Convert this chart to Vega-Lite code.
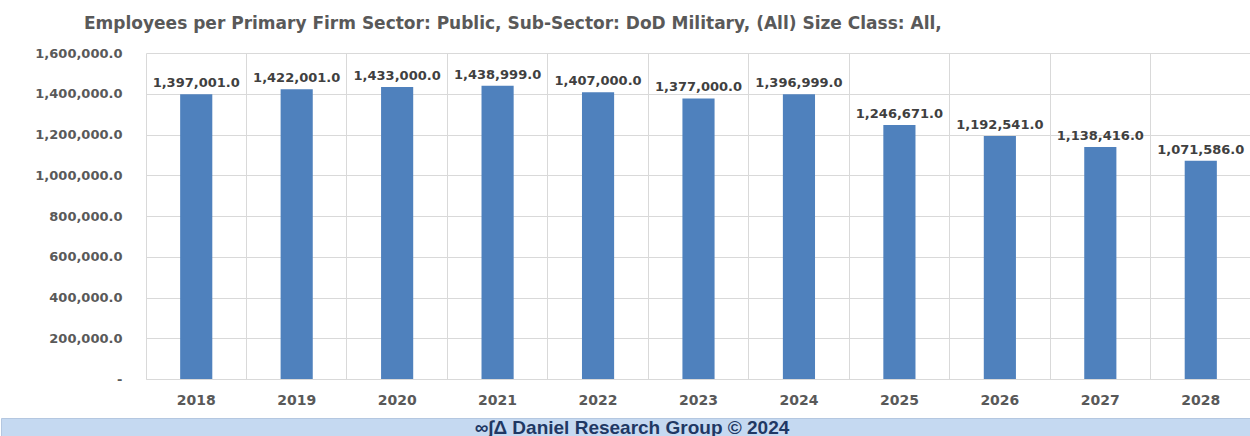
{
  "$schema": "https://vega.github.io/schema/vega-lite/v6.json",
  "padding": {"left": 0, "top": 15, "right": 0, "bottom": 0},
  "background": "white",
  "spacing": 0,
  "config": {"view": {"stroke": null}, "font": "DejaVu Sans"},
  "vconcat": [
    {
      "width": 1250,
      "height": 326,
      "title": {
        "text": "Employees per Primary Firm Sector: Public, Sub-Sector: DoD Military, (All) Size Class: All,",
        "anchor": "start",
        "frame": "group",
        "dx": 83,
        "fontSize": 17,
        "fontWeight": "bold",
        "color": "#595959",
        "font": "DejaVu Sans",
        "offset": 14
      },
      "data": {
        "values": [
          {"year": "2018", "value": 1397001},
          {"year": "2019", "value": 1422001},
          {"year": "2020", "value": 1433000},
          {"year": "2021", "value": 1438999},
          {"year": "2022", "value": 1407000},
          {"year": "2023", "value": 1377000},
          {"year": "2024", "value": 1396999},
          {"year": "2025", "value": 1246671},
          {"year": "2026", "value": 1192541},
          {"year": "2027", "value": 1138416},
          {"year": "2028", "value": 1071586}
        ]
      },
      "encoding": {
        "x": {
          "field": "year",
          "type": "ordinal",
          "scale": {"paddingInner": 0, "paddingOuter": 0, "range": [145, 1250]},
          "axis": {
            "title": null,
            "labelAngle": 0,
            "ticks": false,
            "domainColor": "#d9d9d9",
            "grid": true,
            "bandPosition": 0,
            "gridColor": "#d9d9d9",
            "labelPadding": 14,
            "labelFontSize": 14,
            "labelFontWeight": "bold",
            "labelColor": "#595959",
            "labelFont": "DejaVu Sans",
            "minExtent": 38
          }
        },
        "y": {
          "field": "value",
          "type": "quantitative",
          "scale": {"domain": [0, 1600000], "nice": false},
          "axis": {
            "title": null,
            "domain": false,
            "ticks": false,
            "offset": -145,
            "labelPadding": 24,
            "values": [0, 200000, 400000, 600000, 800000, 1000000, 1200000, 1400000, 1600000],
            "labelExpr": "datum.value === 0 ? '-' : format(datum.value, ',.1f')",
            "labelFontSize": 13,
            "labelFontWeight": "bold",
            "labelColor": "#595959",
            "labelFont": "DejaVu Sans",
            "gridColor": "#d9d9d9"
          }
        }
      },
      "layer": [
        {"mark": {"type": "bar", "color": "#4f81bd", "width": {"band": 0.32}}},
        {
          "mark": {"type": "text", "baseline": "bottom", "dy": -4, "fontSize": 13, "fontWeight": "bold", "color": "#404040", "font": "DejaVu Sans"},
          "encoding": {"text": {"field": "value", "type": "quantitative", "format": ",.1f"}}
        }
      ]
    },
    {
      "width": 1250,
      "height": 22,
      "view": {"fill": "#c5d9f1", "stroke": "#b4c7e0"},
      "data": {"values": [{"label": "∞∫Δ Daniel Research Group © 2024"}]},
      "mark": {"type": "text", "font": "Liberation Sans", "fontSize": 19, "fontWeight": "bold", "color": "#1f3864", "dx": 6, "dy": -1},
      "encoding": {"text": {"field": "label", "type": "nominal"}}
    }
  ]
}
